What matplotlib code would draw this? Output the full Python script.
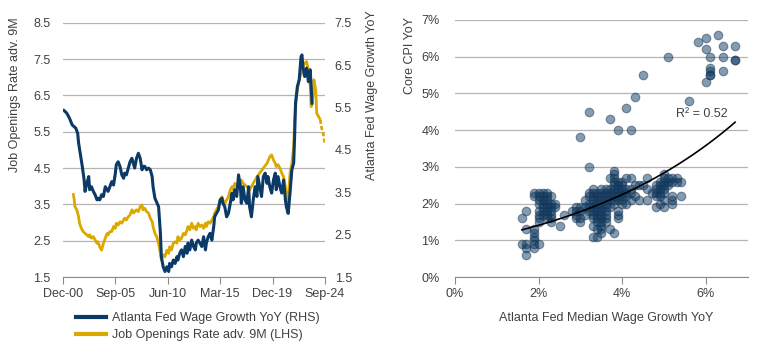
import numpy as np
from matplotlib import pyplot as plt
from matplotlib.lines import Line2D

plt.rcParams['font.family'] = ['Liberation Sans', 'DejaVu Sans']

# ---- left panel data (x = months since Dec-2000) ----
date_ticks = [0, 57, 114, 171, 228, 285]
date_labels = ['Dec-00', 'Sep-05', 'Jun-10', 'Mar-15', 'Dec-19', 'Sep-24']

wage_month = [1, 4, 7, 10, 12, 14, 16, 17, 19, 21, 23, 24, 26, 28, 29, 31, 33, 35, 37, 38,
              40, 42, 44, 46, 48, 49, 51, 53, 55, 57, 58, 60, 62, 64, 66, 67, 69, 71, 73, 75,
              77, 78, 80, 82, 84, 86, 87, 89, 91, 93, 95, 97, 98, 100, 104, 106, 107, 109, 111, 113,
              115, 116, 118, 120, 122, 124, 125, 127, 129, 131, 133, 135, 136, 138, 140, 142, 144, 145, 147, 149,
              151, 153, 155, 156, 158, 160, 162, 164, 165, 167, 169, 171, 173, 174, 176, 178, 180, 182, 184, 185,
              187, 189, 191, 193, 194, 196, 198, 200, 202, 203, 205, 207, 209, 211, 212, 214, 216, 218, 220, 222,
              223, 225, 227, 229, 231, 232, 234, 236, 238, 240, 242, 243, 245, 247, 249, 251, 252, 253, 255, 257,
              259, 260, 261, 263, 265, 267, 269, 271]
wage_growth = [5.43, 5.37, 5.25, 5.09, 5.05, 5.01, 4.89, 4.66, 4.38, 4.11, 3.79, 3.52, 3.71, 3.87, 3.56, 3.63, 3.52, 3.44, 3.32, 3.36,
               3.32, 3.44, 3.40, 3.63, 3.56, 3.52, 3.63, 3.75, 3.67, 3.95, 4.15, 4.22, 4.11, 3.91, 3.83, 3.95, 3.91, 4.07, 4.22, 4.30,
               4.15, 4.07, 4.30, 4.42, 4.30, 4.03, 4.11, 4.11, 4.03, 4.07, 4.03, 3.87, 3.63, 3.36, 3.16, 2.53, 1.98, 1.74, 1.63, 1.74,
               1.63, 1.82, 1.74, 1.90, 1.82, 1.98, 1.90, 2.06, 2.14, 1.98, 2.22, 2.06, 2.30, 2.14, 2.37, 2.22, 2.14, 2.30, 2.37, 2.30,
               2.22, 2.45, 2.14, 2.30, 2.45, 2.53, 2.37, 2.69, 2.92, 3.00, 3.08, 3.32, 3.36, 3.24, 3.16, 2.92, 3.00, 3.24, 3.48, 3.32,
               3.56, 3.40, 3.91, 3.63, 3.24, 3.63, 3.32, 3.24, 3.63, 3.16, 2.92, 3.32, 3.63, 3.40, 3.87, 3.63, 3.40, 3.87, 3.95, 3.71,
               3.87, 3.63, 3.48, 3.79, 3.95, 3.56, 3.87, 3.63, 3.48, 3.79, 3.32, 3.16, 3.00, 3.48, 4.03, 4.19, 4.81, 5.60, 5.99, 6.15,
               6.70, 6.74, 6.47, 6.23, 6.43, 6.11, 6.39, 5.60]

jolts_month = [11, 12, 13, 15, 17, 18, 20, 22, 24, 26, 28, 29, 31, 33, 35, 37, 38, 40, 42, 44,
               46, 48, 49, 51, 53, 55, 57, 58, 60, 62, 64, 66, 67, 69, 71, 73, 75, 77, 78, 80,
               82, 84, 86, 87, 89, 91, 93, 95, 97, 98, 100, 102, 104, 106, 107, 109, 111, 113, 115, 116,
               118, 120, 122, 124, 125, 127, 129, 131, 133, 135, 136, 138, 140, 142, 144, 145, 147, 149, 151, 153,
               155, 156, 158, 160, 162, 164, 165, 167, 169, 171, 173, 174, 176, 178, 180, 182, 184, 185, 187, 189,
               191, 193, 194, 196, 200, 203, 207, 211, 214, 218, 222, 225, 227, 229, 231, 232, 234, 236, 238, 240,
               242, 243, 244, 246, 247, 249, 251, 252, 254, 256, 258, 260, 261, 263, 265, 267, 269, 270, 272, 273,
               275, 276, 278, 280]
jolts_rate = [3.81, 3.67, 3.44, 3.35, 3.16, 2.98, 2.84, 2.75, 2.70, 2.66, 2.61, 2.66, 2.57, 2.61, 2.52, 2.43, 2.47, 2.33, 2.24, 2.43,
              2.57, 2.70, 2.66, 2.75, 2.75, 2.89, 2.84, 2.98, 2.93, 3.02, 2.98, 3.07, 3.12, 3.07, 3.16, 3.21, 3.35, 3.26, 3.30, 3.35,
              3.30, 3.44, 3.48, 3.35, 3.39, 3.30, 3.26, 3.12, 3.02, 2.89, 2.70, 2.61, 2.43, 2.15, 1.97, 2.11, 2.06, 2.24, 2.15, 2.33,
              2.24, 2.43, 2.47, 2.43, 2.61, 2.52, 2.57, 2.70, 2.66, 2.80, 2.89, 2.80, 2.98, 2.84, 2.89, 2.80, 2.98, 2.89, 2.93, 2.84,
              2.98, 2.89, 3.02, 2.98, 3.07, 3.16, 3.26, 3.35, 3.44, 3.62, 3.71, 3.62, 3.53, 3.62, 3.71, 3.90, 3.99, 3.90, 4.08, 3.99,
              4.13, 4.00, 4.17, 4.08, 3.99, 3.90, 4.08, 4.26, 4.36, 4.50, 4.63, 4.81, 4.86, 4.72, 4.63, 4.54, 4.59, 4.50, 4.36, 4.26,
              3.99, 3.62, 3.53, 3.99, 4.36, 4.63, 5.09, 5.83, 6.47, 6.84, 7.02, 7.12, 7.30, 7.39, 7.43, 7.20, 6.74, 6.19, 6.47, 6.93,
              6.65, 6.01, 5.92, 5.83]
# last months of the advanced series (projection, dashed)
jolts_tail_month = [280, 281, 283, 285]
jolts_tail_rate = [5.83, 5.64, 5.46, 5.18]

# ---- right panel data: (Atlanta Fed median wage growth %, core CPI %) ----
scatter_pts = [
    # outliers / 2021-23
    (6.0, 6.5), (5.8, 6.4), (6.3, 6.6), (6.0, 6.2), (6.4, 6.3), (6.7, 6.3), (6.1, 6.0), (6.4, 6.0),
    (6.7, 5.9), (6.7, 5.9), (6.1, 5.7), (6.1, 5.6), (6.1, 5.5), (6.1, 5.5), (6.4, 5.6), (6.0, 5.3),
    (5.1, 6.0), (4.5, 5.5), (5.6, 4.8), (4.3, 4.9), (4.1, 4.6), (3.7, 4.3), (3.2, 4.5), (3.9, 4.0),
    (4.2, 4.0), (3.0, 3.8), (3.2, 3.0), (3.8, 1.2),
    # low wage growth cluster
    (1.9, 2.3), (2.0, 2.3), (2.1, 2.3), (2.2, 2.3),
    (1.9, 2.2), (2.0, 2.2), (2.1, 2.2), (2.2, 2.2), (2.3, 2.2),
    (2.0, 2.1), (2.1, 2.1), (2.2, 2.1),
    (2.0, 2.0), (2.1, 2.0), (2.2, 2.0), (2.3, 2.0), (2.4, 2.0),
    (2.1, 1.9), (2.2, 1.9), (2.3, 1.9), (2.4, 1.9),
    (2.0, 1.8), (2.1, 1.8), (2.2, 1.8), (2.3, 1.8),
    (2.0, 1.7), (2.1, 1.7), (2.2, 1.7), (2.3, 1.7), (2.6, 1.7),
    (2.0, 1.6), (2.2, 1.6), (2.3, 1.6), (2.0, 1.5), (2.3, 1.5), (2.5, 1.4),
    (1.7, 1.8), (1.6, 1.6), (1.7, 1.3), (1.9, 1.3), (1.9, 1.2), (1.9, 1.1), (1.9, 1.0),
    (1.6, 0.9), (1.7, 0.9), (1.9, 0.9), (2.0, 0.9), (1.7, 0.8), (1.9, 0.8), (1.7, 0.6),
    # mid cluster
    (3.8, 2.9), (3.8, 2.8), (3.7, 2.7), (3.8, 2.7), (4.1, 2.7), (4.2, 2.7),
    (3.8, 2.6), (3.9, 2.6), (4.0, 2.6),
    (3.8, 2.5), (3.9, 2.5), (4.0, 2.5), (4.3, 2.5), (4.4, 2.5),
    (3.3, 2.4), (3.5, 2.4), (3.6, 2.4), (3.7, 2.4), (3.8, 2.4), (3.9, 2.4), (4.0, 2.4), (4.1, 2.4), (4.2, 2.4),
    (3.2, 2.3), (3.3, 2.3), (3.4, 2.3), (3.5, 2.3), (3.6, 2.3), (3.7, 2.3), (3.8, 2.3), (3.9, 2.3), (4.0, 2.3),
    (4.1, 2.3), (4.2, 2.3),
    (3.2, 2.2), (3.3, 2.2), (3.4, 2.2), (3.5, 2.2), (3.6, 2.2), (3.7, 2.2), (3.8, 2.2), (3.9, 2.2), (4.0, 2.2),
    (4.1, 2.2), (4.3, 2.2),
    (3.1, 2.1), (3.3, 2.1), (3.4, 2.1), (3.5, 2.1), (3.6, 2.1), (3.7, 2.1), (3.8, 2.1), (3.9, 2.1), (4.0, 2.1),
    (4.2, 2.1), (4.4, 2.1),
    (3.2, 2.0), (3.3, 2.0), (3.4, 2.0), (3.5, 2.0), (3.6, 2.0), (3.8, 2.0), (4.0, 2.0), (4.1, 2.0),
    (2.9, 1.9), (3.0, 1.9), (3.1, 1.9), (3.2, 1.9), (3.3, 1.9), (3.4, 1.9), (3.5, 1.9), (3.6, 1.9), (3.7, 1.9),
    (2.8, 1.8), (2.9, 1.8), (3.0, 1.8), (3.2, 1.8), (3.3, 1.8), (3.4, 1.8), (3.5, 1.8), (3.6, 1.8), (3.9, 1.8),
    (2.9, 1.7), (3.1, 1.7), (3.3, 1.7), (3.4, 1.7), (3.5, 1.7), (3.6, 1.7), (3.9, 1.7),
    (2.9, 1.6), (3.0, 1.6), (3.3, 1.6), (3.4, 1.6), (3.5, 1.6), (3.6, 1.6), (3.9, 1.6),
    (3.0, 1.5), (3.4, 1.5), (3.5, 1.5), (3.6, 1.5), (3.3, 1.4), (3.5, 1.4),
    (3.4, 1.3), (3.5, 1.3), (3.7, 1.3), (3.5, 1.2), (3.3, 1.1), (3.4, 1.1),
    # high wage growth cluster
    (5.0, 2.8), (4.6, 2.7), (5.0, 2.7), (5.1, 2.7), (5.2, 2.7), (5.3, 2.7),
    (4.9, 2.6), (5.0, 2.6), (5.1, 2.6), (5.2, 2.6), (5.3, 2.6), (5.4, 2.6),
    (4.5, 2.5), (4.8, 2.5), (4.9, 2.5), (5.0, 2.5), (5.1, 2.5),
    (4.6, 2.4), (4.8, 2.4), (4.9, 2.4), (5.0, 2.4),
    (4.7, 2.3), (4.8, 2.3), (4.9, 2.3), (5.0, 2.3),
    (4.8, 2.2), (4.9, 2.2), (5.2, 2.2), (5.4, 2.2),
    (4.6, 2.1), (5.0, 2.1), (5.2, 2.1), (4.9, 2.0), (5.2, 2.0), (4.8, 1.9), (5.0, 1.9),
]
# exponential trendline y = a * exp(b * x), as shown on the chart
trend_a = 0.885
trend_b = 0.233
r2_text = 'R² = 0.52'

navy = '#0b3a66'
gold = '#dba800'
txt = '#404040'
grid_c = '#b4b4b4'
axis_c = '#8c8c8c'

fig = plt.figure(figsize=(7.7, 3.55), dpi=100)

# ================= left panel =================
ax1 = fig.add_axes([0.0818, 0.2197, 0.3402, 0.7163])
ax1r = ax1.twinx()

ax1.plot(jolts_month, jolts_rate, color=gold, lw=2.0, solid_capstyle='butt')
ax1.plot(jolts_tail_month, jolts_tail_rate, color=gold, lw=2.0, linestyle=(0, (1.5, 0.8)))
ax1r.plot(wage_month, wage_growth, color=navy, lw=2.2)
ax1.set_zorder(1)
ax1r.set_zorder(2)
ax1.patch.set_visible(False)

ax1.set_xlim(0, 285)
ax1.set_ylim(1.5, 8.5)
ax1r.set_ylim(1.5, 7.5)
ax1.set_yticks(np.arange(1.5, 8.6, 1.0))
ax1r.set_yticks(np.arange(1.5, 7.6, 1.0))
ax1.set_xticks(date_ticks)
ax1.set_xticklabels(date_labels)
ax1.grid(axis='y', color=grid_c, lw=0.9)
ax1.set_axisbelow(True)

for a in (ax1, ax1r):
    for s in ('top', 'left', 'right'):
        a.spines[s].set_visible(False)
    a.spines['bottom'].set_color(axis_c)
ax1r.spines['bottom'].set_visible(False)
ax1.tick_params(axis='y', length=0, pad=9, labelsize=9, labelcolor=txt)
ax1r.tick_params(axis='y', length=0, pad=7, labelsize=9, labelcolor=txt)
ax1.tick_params(axis='x', length=5, color=axis_c, pad=3, labelsize=9, labelcolor=txt)

fig.text(0.0195, 0.952, 'Job Openings Rate adv. 9M', rotation=90, ha='center', va='top',
         fontsize=9, color=txt)
fig.text(0.483, 0.972, 'Atlanta Fed Wage Growth YoY', rotation=90, ha='center', va='top',
         fontsize=9, color=txt)

handles = [Line2D([0], [0], color=navy, lw=3), Line2D([0], [0], color=gold, lw=3)]
fig.legend(handles, ['Atlanta Fed Wage Growth YoY (RHS)', 'Job Openings Rate adv. 9M (LHS)'],
           loc='upper left', bbox_to_anchor=(0.099, 0.12), frameon=False, fontsize=9,
           handlelength=2.4, handletextpad=0.5, labelspacing=0.38, borderaxespad=0, borderpad=0,
           labelcolor=txt)

# ================= right panel =================
ax2 = fig.add_axes([0.591, 0.2197, 0.380, 0.724])
pts = np.array(scatter_pts)
ax2.scatter(pts[:, 0], pts[:, 1], s=38, color=navy, alpha=0.5, edgecolor='#1d3550',
            linewidth=0.8, zorder=3)
xs = np.linspace(pts[:, 0].min(), pts[:, 0].max(), 100)
ax2.plot(xs, trend_a * np.exp(trend_b * xs), color='black', lw=1.2, zorder=4)
ax2.text(5.9, 4.45, r2_text, ha='center', va='center', fontsize=9, color=txt, zorder=5)

ax2.set_xlim(0, 7)
ax2.set_ylim(0, 7)
ax2.set_xticks([0, 2, 4, 6])
ax2.set_xticklabels(['0%', '2%', '4%', '6%'])
ax2.set_yticks(range(0, 8))
ax2.set_yticklabels([f'{v}%' for v in range(0, 8)])
ax2.grid(axis='y', color=grid_c, lw=0.9)
ax2.set_axisbelow(True)
for s in ('top', 'left', 'right'):
    ax2.spines[s].set_visible(False)
ax2.spines['bottom'].set_color(axis_c)
ax2.tick_params(axis='y', length=0, pad=11, labelsize=9, labelcolor=txt)
ax2.tick_params(axis='x', length=5, color=axis_c, pad=3, labelsize=9, labelcolor=txt)

fig.text(0.532, 0.952, 'Core CPI YoY', rotation=90, ha='center', va='top', fontsize=9, color=txt)
fig.text(0.787, 0.105, 'Atlanta Fed Median Wage Growth YoY', ha='center', va='center',
         fontsize=9, color=txt)

fig.savefig('out.png', dpi=100)
